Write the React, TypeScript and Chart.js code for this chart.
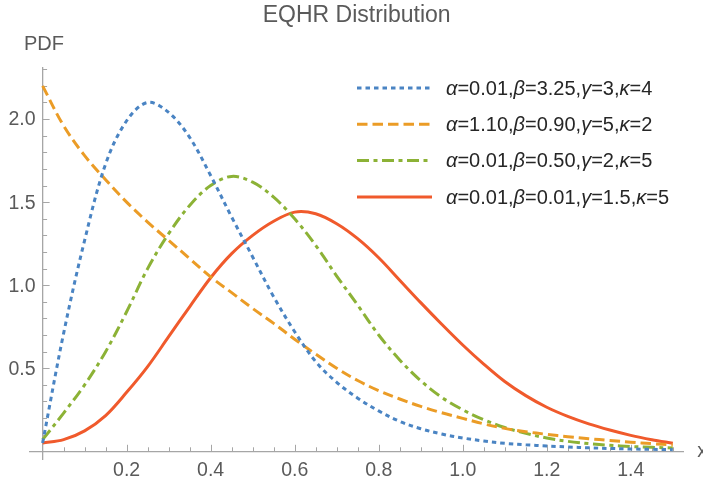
import React, { useEffect, useRef } from 'react';
import { Chart, registerables } from 'chart.js';

Chart.register(...registerables);

// ---- data ----
const X_VALUES = [
  0, 0.05, 0.1, 0.15, 0.2, 0.25, 0.3, 0.35, 0.4, 0.45, 0.5, 0.55, 0.6, 0.65, 0.7, 0.75,
  0.8, 0.85, 0.9, 0.95, 1.0, 1.05, 1.1, 1.15, 1.2, 1.25, 1.3, 1.35, 1.4, 1.45, 1.5,
];
const BLUE_PDF = [
  0.05, 0.71, 1.27, 1.73, 1.99, 2.1, 2.04, 1.89, 1.66, 1.41, 1.17, 0.93, 0.72, 0.54, 0.415, 0.32,
  0.243, 0.18, 0.136, 0.104, 0.08, 0.062, 0.048, 0.039, 0.032, 0.026, 0.021, 0.017, 0.014, 0.012, 0.01,
];
const ORANGE_PDF = [
  2.2, 1.96, 1.78, 1.635, 1.5, 1.38, 1.27, 1.16, 1.05, 0.955, 0.86, 0.77, 0.675, 0.585, 0.5, 0.426,
  0.365, 0.315, 0.27, 0.232, 0.198, 0.165, 0.138, 0.118, 0.102, 0.088, 0.076, 0.065, 0.055, 0.046, 0.038,
];
const GREEN_PDF = [
  0.07, 0.23, 0.4, 0.6, 0.84, 1.1, 1.31, 1.48, 1.6, 1.655, 1.62, 1.53, 1.4, 1.24, 1.055, 0.88,
  0.7, 0.55, 0.425, 0.325, 0.25, 0.19, 0.143, 0.108, 0.08, 0.06, 0.046, 0.036, 0.029, 0.024, 0.02,
];
const RED_PDF = [
  0.05, 0.07, 0.123, 0.215, 0.355, 0.51, 0.69, 0.87, 1.045, 1.19, 1.3, 1.385, 1.44, 1.43, 1.37, 1.28,
  1.165, 1.03, 0.895, 0.765, 0.64, 0.525, 0.42, 0.335, 0.265, 0.21, 0.165, 0.128, 0.096, 0.07, 0.048,
];
const SERIES_LABELS = [
  'α=0.01,β=3.25,γ=3,κ=4',
  'α=1.10,β=0.90,γ=5,κ=2',
  'α=0.01,β=0.50,γ=2,κ=5',
  'α=0.01,β=0.01,γ=1.5,κ=5',
];
const TITLE = 'EQHR Distribution';
const Y_AXIS_LABEL = 'PDF';
const X_AXIS_LABEL = 'x';
const X_TICKS = [0.2, 0.4, 0.6, 0.8, 1.0, 1.2, 1.4];
const Y_TICKS = [0.5, 1.0, 1.5, 2.0];
const X_MINOR_TICKS = [
  0.05, 0.1, 0.15, 0.2, 0.25, 0.3, 0.35, 0.4, 0.45, 0.5, 0.55, 0.6, 0.65, 0.7, 0.75,
  0.8, 0.85, 0.9, 0.95, 1.0, 1.05, 1.1, 1.15, 1.2, 1.25, 1.3, 1.35, 1.4, 1.45, 1.5,
];
const Y_MINOR_TICKS = [
  0.1, 0.2, 0.3, 0.4, 0.5, 0.6, 0.7, 0.8, 0.9, 1.0, 1.1, 1.2, 1.3, 1.4, 1.5, 1.6, 1.7,
  1.8, 1.9, 2.0, 2.1, 2.2, 2.3,
];

// ---- styles ----
const COLORS = ['#4a84c3', '#eb9c26', '#8cb236', '#f05a2c'];
const DASHES = [[4.5, 4], [10.5, 5], [12, 4.5, 4, 4.5], []];
const FONT = '"Liberation Sans", Arial, sans-serif';
const AXIS_COLOR = '#a6a6a6';
const TEXT_COLOR = '#5a5a5a';
const TICK_FONT_SIZE = 19.5;

const isMajor = (v: number, step: number) => Math.abs(v / step - Math.round(v / step)) < 1e-6;

const decorPlugin = {
  id: 'decor',
  beforeDatasetsDraw(chart: any) {
    const { ctx } = chart;
    const xs = chart.scales.x;
    const ys = chart.scales.y;
    const x0 = xs.getPixelForValue(0);
    const y0 = ys.getPixelForValue(0);
    ctx.save();
    ctx.strokeStyle = AXIS_COLOR;
    ctx.lineWidth = 1;
    ctx.beginPath();
    X_MINOR_TICKS.forEach((v) => {
      const px = Math.round(xs.getPixelForValue(v)) + 0.5;
      const len = isMajor(v, 0.2) ? 6.5 : 4;
      ctx.moveTo(px, y0);
      ctx.lineTo(px, y0 - len);
    });
    Y_MINOR_TICKS.forEach((v) => {
      const py = Math.round(ys.getPixelForValue(v)) + 0.5;
      const len = isMajor(v, 0.5) ? 7 : 4.5;
      ctx.moveTo(x0, py);
      ctx.lineTo(x0 + len, py);
    });
    ctx.stroke();

    // y tick labels (left of the axis at x = 0)
    ctx.fillStyle = TEXT_COLOR;
    ctx.font = `${TICK_FONT_SIZE}px ${FONT}`;
    ctx.textAlign = 'right';
    ctx.textBaseline = 'middle';
    Y_TICKS.forEach((v) => {
      ctx.fillText(v.toFixed(1), x0 - 7, ys.getPixelForValue(v) + 1);
    });
    ctx.restore();
  },
  afterDraw(chart: any) {
    const { ctx } = chart;
    const xs = chart.scales.x;
    const ys = chart.scales.y;
    const y0 = ys.getPixelForValue(0);
    ctx.save();
    ctx.fillStyle = TEXT_COLOR;
    ctx.textBaseline = 'alphabetic';
    ctx.font = `20px ${FONT}`;
    ctx.textAlign = 'left';
    ctx.fillText(Y_AXIS_LABEL, 24, 50);
    ctx.font = `${TICK_FONT_SIZE}px ${FONT}`;
    ctx.fillText(X_AXIS_LABEL, xs.right + 14, y0 + 6);

    // legend
    const lineX1 = 357;
    const lineX2 = 432;
    const textX = 446;
    const rowY = [88, 124.3, 160.6, 197];
    SERIES_LABELS.forEach((label, i) => {
      const y = rowY[i];
      ctx.strokeStyle = COLORS[i];
      ctx.lineWidth = 3;
      ctx.lineCap = 'butt';
      ctx.setLineDash(DASHES[i]);
      ctx.beginPath();
      ctx.moveTo(lineX1, y);
      ctx.lineTo(lineX2, y);
      ctx.stroke();
      ctx.setLineDash([]);
      ctx.fillStyle = '#262626';
      ctx.textBaseline = 'middle';
      let x = textX;
      for (const ch of label) {
        const greek = /[α-ω]/.test(ch);
        ctx.font = `${greek ? 'italic ' : ''}20px ${FONT}`;
        ctx.fillText(ch, x, y + 1);
        x += ctx.measureText(ch).width;
      }
    });
    ctx.restore();
  },
};

export default function App() {
  const canvasRef = useRef<HTMLCanvasElement | null>(null);

  useEffect(() => {
    const series = [BLUE_PDF, ORANGE_PDF, GREEN_PDF, RED_PDF];
    const chart = new Chart(canvasRef.current as HTMLCanvasElement, {
      type: 'line',
      data: {
        datasets: series.map((vals, i) => ({
          label: SERIES_LABELS[i],
          data: X_VALUES.map((x, j) => ({ x, y: vals[j] })),
          borderColor: COLORS[i],
          backgroundColor: COLORS[i],
          borderWidth: 3,
          borderDash: DASHES[i],
          borderCapStyle: 'butt' as const,
          pointRadius: 0,
          fill: false,
          tension: 0.35,
        })),
      },
      options: {
        animation: false,
        responsive: true,
        maintainAspectRatio: false,
        layout: { padding: { left: 30, right: 19.7, top: 0, bottom: 23.4 } },
        plugins: {
          legend: { display: false },
          tooltip: { enabled: false },
          title: {
            display: true,
            text: TITLE,
            color: TEXT_COLOR,
            font: { family: FONT, size: 23, weight: 'normal' },
            padding: { top: 2, bottom: 38 },
          },
        },
        scales: {
          x: {
            type: 'linear',
            min: -0.03,
            max: 1.525,
            position: { y: 0 } as any,
            afterBuildTicks: (s: any) => {
              s.ticks = X_TICKS.map((value) => ({ value }));
            },
            grid: { display: true, drawOnChartArea: false, drawTicks: false },
            border: { display: true, color: AXIS_COLOR, width: 1.3 },
            ticks: {
              color: TEXT_COLOR,
              font: { family: FONT, size: TICK_FONT_SIZE },
              padding: 8,
              maxRotation: 0,
              autoSkip: false,
              callback: (v: any) => Number(v).toFixed(1),
            },
          },
          y: {
            type: 'linear',
            min: -0.05,
            max: 2.31,
            position: { x: 0 } as any,
            afterBuildTicks: (s: any) => {
              s.ticks = Y_TICKS.map((value) => ({ value }));
            },
            grid: { display: true, drawOnChartArea: false, drawTicks: false },
            border: { display: true, color: AXIS_COLOR, width: 1.3 },
            ticks: { display: false },
          },
        },
      },
      plugins: [decorPlugin],
    });
    return () => chart.destroy();
  }, []);

  return (
    <div style={{ position: 'fixed', left: 0, top: 0, width: 703, height: 483, background: '#fff' }}>
      <canvas ref={canvasRef} />
    </div>
  );
}
